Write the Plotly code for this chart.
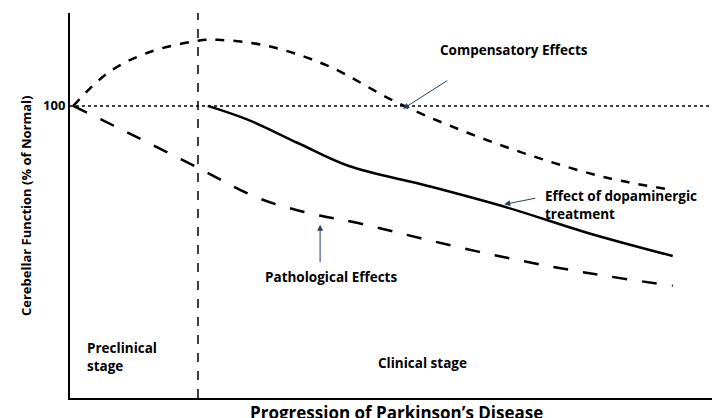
import plotly.graph_objects as go

comp_x = [0.5, 5.8, 11.9, 19.6, 22.7, 30.3, 39.5, 50.2, 60.9, 71.7, 82.4, 92.3]
comp_y = [100, 111.3, 118.2, 122.3, 122.6, 120.5, 113.7, 101, 90.8, 82.2, 75.3, 71.2]
path_x = [0.5, 8.9, 19.6, 28.8, 36.4, 44.1, 54.8, 67.1, 79.3, 92.3]
path_y = [100, 90.8, 78.8, 68.5, 63.4, 59.9, 54.1, 47.9, 42.8, 38.4]
treat_x = [21.1, 27.3, 34.9, 42.6, 54.8, 67.1, 79.3, 92.3]
treat_y = [100, 95.2, 87.3, 79.5, 72.6, 65.1, 56.5, 48.6]
stage_split = 19.6

F = "Open Sans"
fig = go.Figure()
fig.add_trace(go.Scatter(x=comp_x, y=comp_y, mode="lines", line=dict(color="black", width=2.5, dash="dash", shape="spline")))
fig.add_trace(go.Scatter(x=path_x, y=path_y, mode="lines", line=dict(color="black", width=2.5, dash="longdash", shape="spline")))
fig.add_trace(go.Scatter(x=treat_x, y=treat_y, mode="lines", line=dict(color="black", width=2.5, shape="spline")))

fig.add_shape(type="line", x0=0, x1=99, y0=100, y1=100, line=dict(color="black", width=1.5, dash="dot"))
fig.add_shape(type="line", x0=stage_split, x1=stage_split, y0=0, y1=131.8, line=dict(color="black", width=1.5, dash="dash"))

bf = dict(family=F, size=13.5, color="black")
fig.add_annotation(x=8, y=14, text="<b>Preclinical<br>stage</b>", showarrow=False, font=bf, align="left", xanchor="center")
fig.add_annotation(x=54, y=12, text="<b>Clinical stage</b>", showarrow=False, font=bf)
fig.add_annotation(x=51, y=99, ax=58, ay=109, axref="x", ayref="y", text="", showarrow=True, arrowhead=2, arrowwidth=1, arrowsize=1.2)
fig.add_annotation(x=68, y=119, text="<b>Compensatory Effects</b>", showarrow=False, font=bf, xanchor="center")
fig.add_annotation(x=66.5, y=66.3, ax=71.5, ay=68.5, axref="x", ayref="y", text="", showarrow=True, arrowhead=2, arrowwidth=1, arrowsize=1.2)
fig.add_annotation(x=72.5, y=66, text="<b>Effect of dopaminergic<br>treatment</b>", showarrow=False, font=bf, xanchor="left", align="left")
fig.add_annotation(x=38.3, y=59.3, ax=38.3, ay=46, axref="x", ayref="y", text="", showarrow=True, arrowhead=2, arrowwidth=1, arrowsize=1.2)
fig.add_annotation(x=40, y=41.5, text="<b>Pathological Effects</b>", showarrow=False, font=bf, xanchor="center")
fig.add_annotation(x=0.5, y=-0.003, xref="paper", yref="paper", text="<b>Progression of Parkinson’s Disease</b>",
                   showarrow=False, font=dict(family=F, size=17, color="black"), yanchor="top")
fig.add_annotation(x=-0.085, y=0.5, xref="paper", yref="paper", text="<b>Cerebellar Function (% of Normal)</b>",
                   showarrow=False, textangle=-90, font=dict(family=F, size=13, color="black"))

fig.update_layout(width=720, height=418, margin=dict(l=62, r=5, t=5, b=28), showlegend=False,
                  plot_bgcolor="white", paper_bgcolor="white")
fig.update_xaxes(range=[0, 100], showline=True, linecolor="black", linewidth=2, showticklabels=False,
                 ticks="", showgrid=False, zeroline=False)
fig.update_yaxes(range=[0, 131.8], showline=True, linecolor="black", linewidth=2, tickvals=[100], ticktext=["<b>100</b>"],
                 ticks="", showgrid=False, zeroline=False, tickfont=dict(family=F, size=13, color="black"))
fig.write_html("out.html")
